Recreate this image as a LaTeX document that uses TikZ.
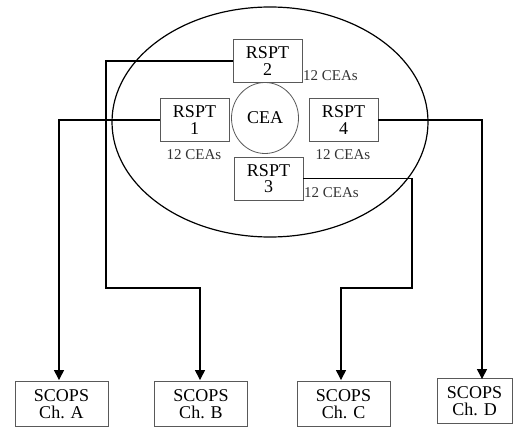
\documentclass[tikz,border=0pt]{standalone}
\usepackage{fontspec}
\setmainfont{Liberation Serif}
\usetikzlibrary{shapes.geometric,calc,arrows.meta}
\begin{document}
\begin{tikzpicture}[x=1pt,y=-1pt,
  box/.style={draw=black!65,line width=0.9pt,inner sep=0pt,align=center,font=\fontsize{18}{16.5}\selectfont},
  rspt/.style={box,minimum width=69pt,minimum height=43pt},
  scops/.style={box,minimum width=93pt,minimum height=45pt},
  lbl/.style={inner sep=0pt,font=\fontsize{15}{15}\selectfont,text=black!80},
  conn/.style={line width=1.3pt,-{Triangle[width=10pt,length=10pt]}},
  link/.style={line width=1.3pt}]
\useasboundingbox (0,0) rectangle (529,428);
\node[ellipse,draw,line width=1.2pt,minimum width=316pt,minimum height=230pt,inner sep=0pt] (outer) at (270,122) {};
\node[ellipse,draw=black!65,line width=0.8pt,minimum width=67pt,minimum height=71pt,inner sep=0pt,font=\fontsize{18}{18}\selectfont] (cea) at (265,118) {CEA};
\node[rspt] (r2) at (267.5,61) {RSPT\\2};
\node[rspt] (r1) at (194.5,120) {RSPT\\1};
\node[rspt] (r4) at (343.5,120) {RSPT\\4};
\node[rspt] (r3) at (268.5,178.5) {RSPT\\3};
\node[lbl,anchor=west] (l2) at (303,76) {12 CEAs};
\node[lbl] (l1) at (194,155) {12 CEAs};
\node[lbl] (l4) at (343,155) {12 CEAs};
\node[lbl,anchor=west] (l3) at (304,193) {12 CEAs};
\node[scops] (sa) at (61.5,404) {SCOPS\\Ch. A};
\node[scops] (sb) at (201,404) {SCOPS\\Ch. B};
\node[scops] (sc) at (343.5,404) {SCOPS\\Ch. C};
\node[scops,minimum width=75pt] (sd) at (474.5,401) {SCOPS\\Ch. D};
\coordinate (b1) at (106,288);
\coordinate (c1) at (412,288);
\draw[conn] (r1.west) -| ($(sa.north)+(-2.5,-1)$);
\draw[conn] (r2.west) -| (b1) -| ($(sb.north)+(-1,-1)$);
\draw[conn] (r3.east) -| (c1) -| ($(sc.north)+(-2.5,-1)$);
\draw[conn] (r4.east) -| ($(sd.north)+(7.5,1)$);
\end{tikzpicture}
\end{document}
